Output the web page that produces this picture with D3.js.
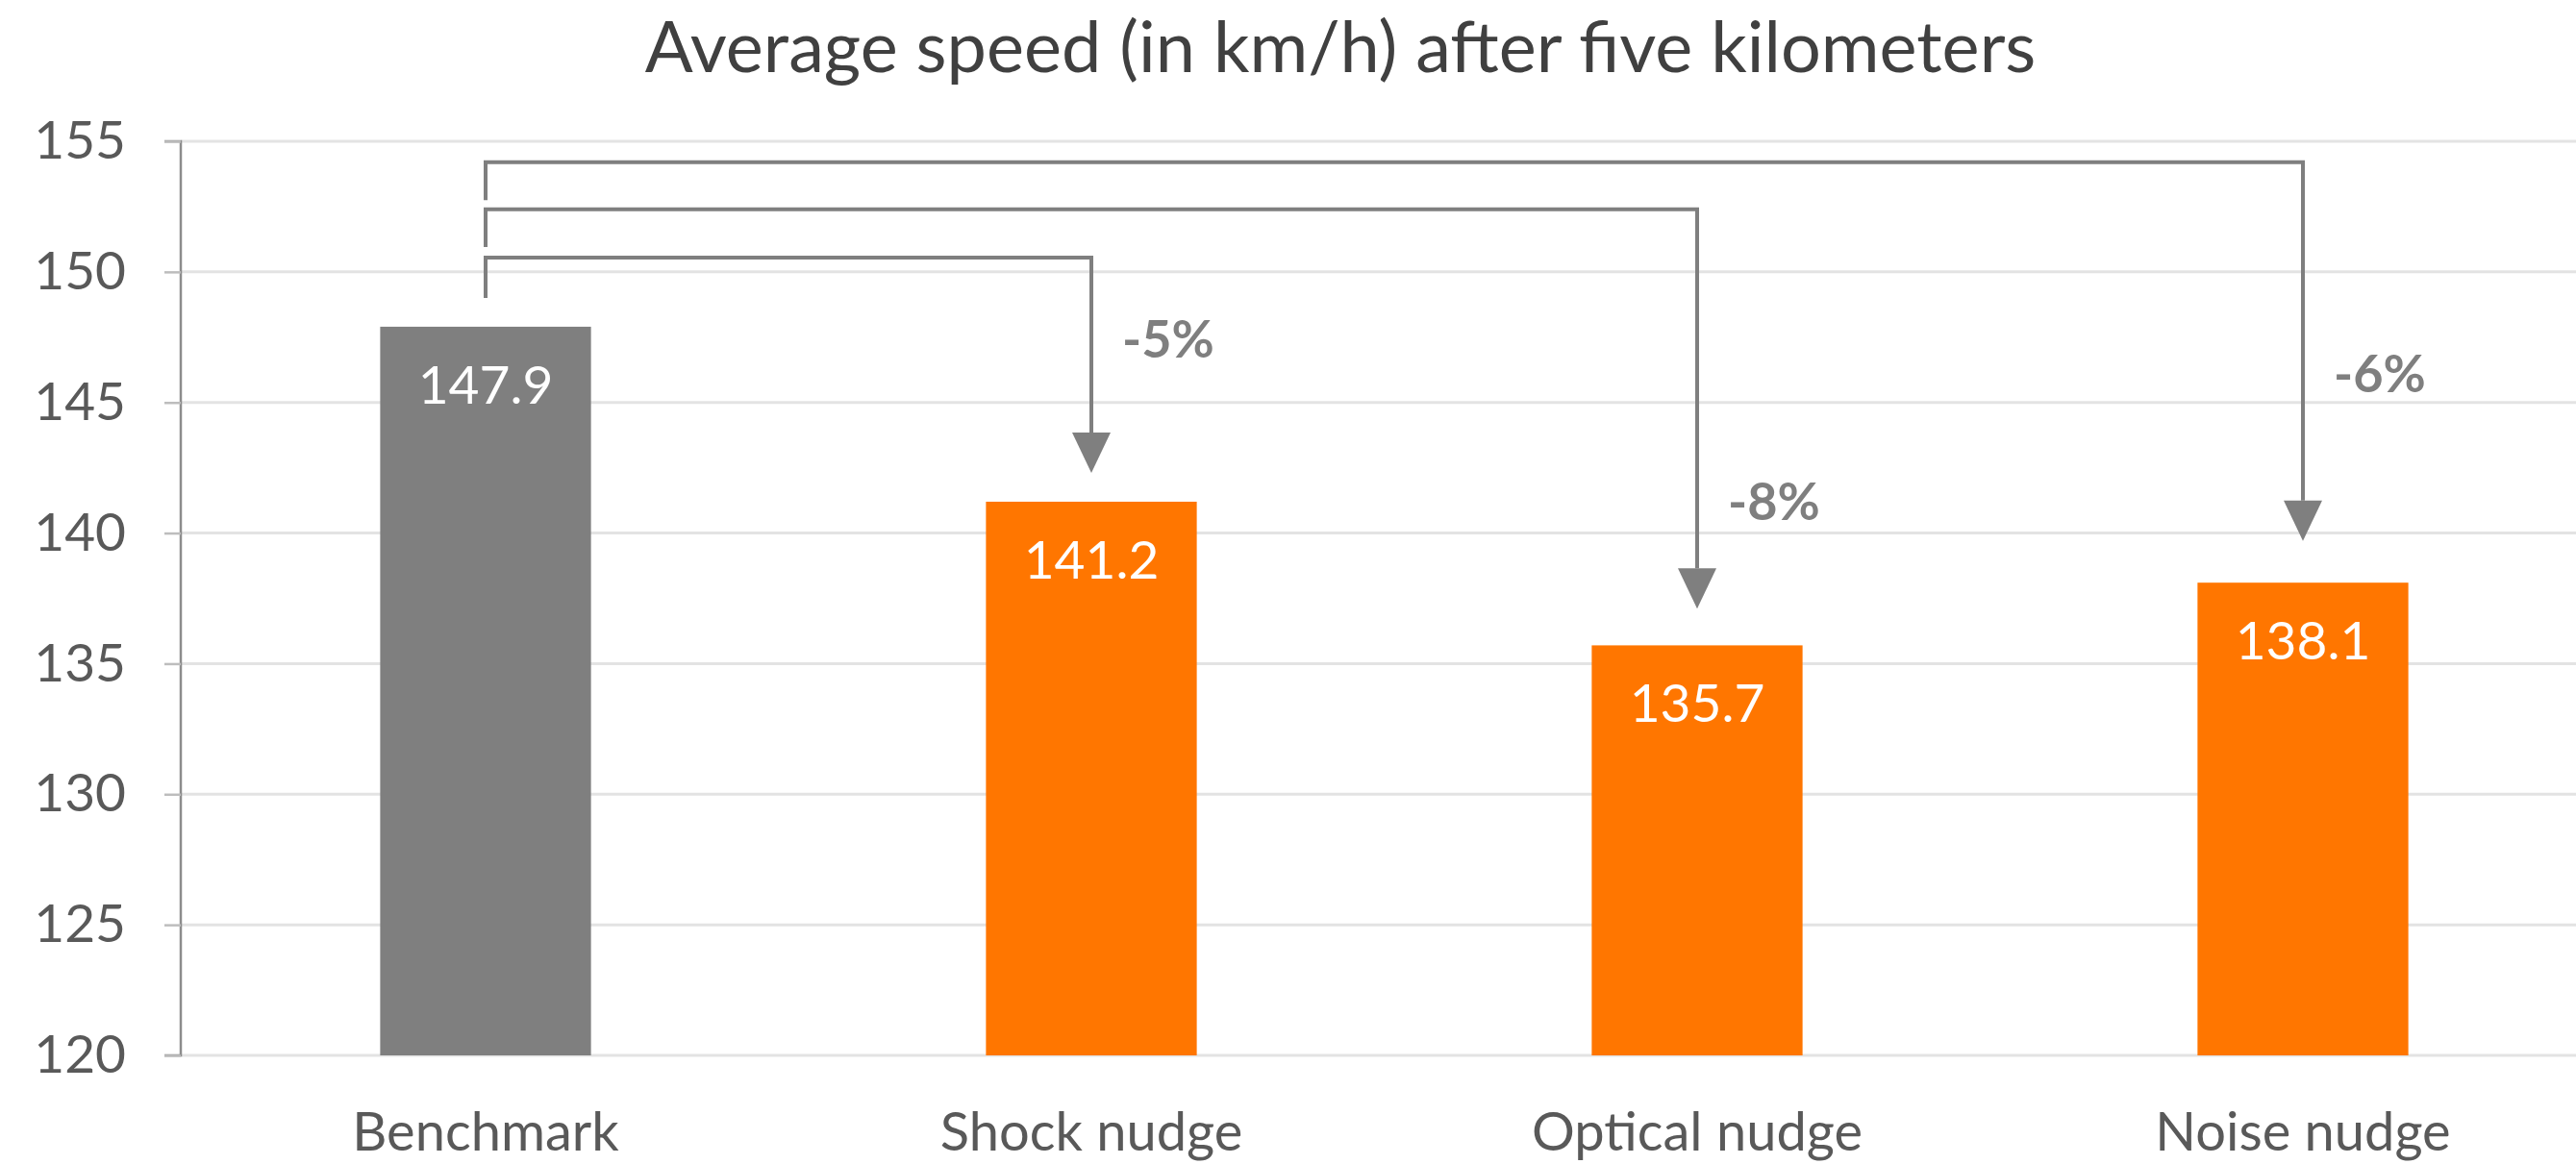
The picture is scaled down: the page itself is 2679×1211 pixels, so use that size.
<!DOCTYPE html>
<html>
<head>
<meta charset="utf-8">
<script src="https://cdn.jsdelivr.net/npm/d3@7"></script>
<style>
  html, body { margin: 0; padding: 0; background: #ffffff; }
  svg { display: block; }
  text { font-family: Lato, "Open Sans", sans-serif; }
</style>
</head>
<body>
<svg id="chart" width="2679" height="1211"></svg>
<script>
// ---- data ----
const categories = ["Benchmark", "Shock nudge", "Optical nudge", "Noise nudge"];
const speeds = [147.9, 141.2, 135.7, 138.1];
const yTicks = [120, 125, 130, 135, 140, 145, 150, 155];
const titleText = "Average speed (in km/h) after five kilometers";
// comparison annotations (benchmark -> nudge)
const compTargets = ["Shock nudge", "Optical nudge", "Noise nudge"];
const compLabels = ["-5%", "-8%", "-6%"];
const compStart = [149.0, 150.95, 152.75];   // where elbow leaves benchmark
const compLevel = [150.55, 152.4, 154.2];    // horizontal run level
const compTip = [142.3, 137.1, 139.7];       // arrow tip level
const compLabelY = [147.42, 141.2, 146.1];   // label vertical position

// ---- layout ----
const W = 2679, H = 1211;
const svg = d3.select("#chart");
const x = d3.scaleBand().domain(categories).range([190, 2710]).paddingInner(0.652).paddingOuter(0.326);
const y = d3.scaleLinear().domain([120, 155]).range([1098, 147]);
const barColor = d => d === "Benchmark" ? "#7f7f7f" : "#ff7600";

// gridlines
svg.append("g").selectAll("line").data(yTicks).join("line")
  .attr("x1", 188).attr("x2", W)
  .attr("y1", d => y(d)).attr("y2", d => y(d))
  .attr("stroke", "#e3e3e3").attr("stroke-width", 3);

// y axis
const yAxis = d3.axisLeft(y).tickValues(yTicks).tickSize(17).tickPadding(40).tickFormat(d3.format("d"));
const gy = svg.append("g").attr("transform", "translate(188,0)").call(yAxis);
gy.select(".domain").attr("stroke", "#8c8c8c").attr("stroke-width", 2.5)
  .attr("d", `M-17,${y(155)}H0V${y(120)}H-17`);
gy.selectAll(".tick line").attr("stroke", "#bdbdbd").attr("stroke-width", 2.5);
gy.selectAll(".tick text").attr("fill", "#595959").attr("font-size", 55)
  .attr("font-family", "Lato, 'Open Sans', sans-serif");

// bars
svg.append("g").selectAll("rect").data(categories).join("rect")
  .attr("x", d => x(d)).attr("width", x.bandwidth())
  .attr("y", (d, i) => y(speeds[i]))
  .attr("height", (d, i) => y(120) - y(speeds[i]))
  .attr("fill", d => barColor(d));

// value labels
svg.append("g").selectAll("text").data(categories).join("text")
  .attr("x", d => x(d) + x.bandwidth() / 2)
  .attr("y", (d, i) => y(speeds[i]) + 60)
  .attr("dy", "0.36em")
  .attr("text-anchor", "middle")
  .attr("fill", "#ffffff").attr("font-size", 55)
  .text((d, i) => speeds[i].toFixed(1));

// x labels
svg.append("g").selectAll("text").data(categories).join("text")
  .attr("x", d => x(d) + x.bandwidth() / 2)
  .attr("y", 1197)
  .attr("text-anchor", "middle")
  .attr("fill", "#595959").attr("font-size", 56)
  .text(d => d);

// comparison elbows
const cx = c => x(c) + x.bandwidth() / 2;
const x0 = cx("Benchmark");
const ann = svg.append("g");
compTargets.forEach((t, i) => {
  const xt = cx(t);
  const tipY = y(compTip[i]);
  const baseY = tipY - 42;
  ann.append("path")
    .attr("d", `M${x0},${y(compStart[i])}V${y(compLevel[i])}H${xt}V${baseY}`)
    .attr("fill", "none").attr("stroke", "#7f7f7f").attr("stroke-width", 4);
  ann.append("path")
    .attr("d", `M${xt - 20},${baseY}L${xt + 20},${baseY}L${xt},${tipY}Z`)
    .attr("fill", "#7f7f7f");
  ann.append("text")
    .attr("x", xt + 32).attr("y", y(compLabelY[i]))
    .attr("dy", "0.36em")
    .attr("fill", "#7f7f7f").attr("font-size", 54).attr("font-weight", "bold")
    .text(compLabels[i]);
});

// title
const title = svg.append("text")
  .attr("x", 1394).attr("y", 75)
  .attr("text-anchor", "middle")
  .attr("fill", "#404040").attr("font-size", 70)
  .text(titleText);
const tw = title.node().getComputedTextLength();
title.attr("font-size", 70 * 1447 / tw);
</script>
</body>
</html>
